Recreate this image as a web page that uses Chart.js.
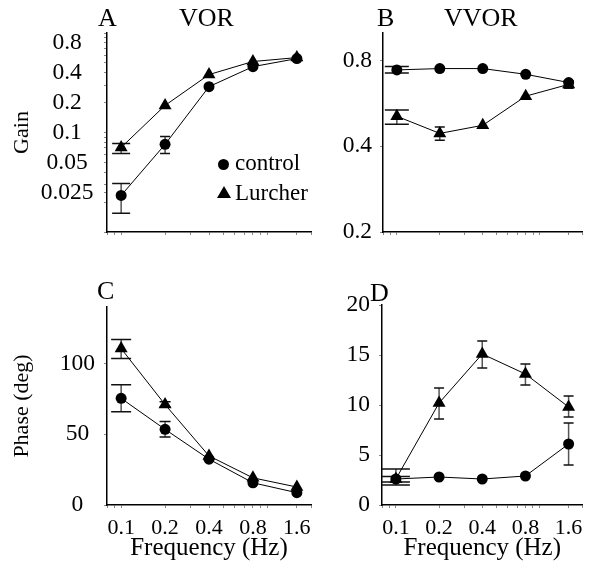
<!DOCTYPE html>
<html>
<head>
<meta charset="utf-8">
<script src="https://cdn.jsdelivr.net/npm/chart.js@4/dist/chart.umd.min.js"></script>
<style>
html,body{margin:0;padding:0;background:#fff;width:590px;height:570px;overflow:hidden}
#wrap{position:relative;width:590px;height:570px}
canvas{position:absolute;left:0;top:0}
.lbl{position:absolute;font-family:"Liberation Serif","Times New Roman",serif;color:#000;line-height:1;white-space:nowrap}
.dot{position:absolute;width:11px;height:11px;border-radius:50%;background:#000}
.tri{position:absolute;width:0;height:0;border-left:7.5px solid transparent;border-right:7.5px solid transparent;border-bottom:12px solid #000}
</style>
</head>
<body>
<div id="wrap">
<canvas id="cA" width="590" height="570"></canvas>
<canvas id="cB" width="590" height="570"></canvas>
<canvas id="cC" width="590" height="570"></canvas>
<canvas id="cD" width="590" height="570"></canvas>
<div class="lbl" style="left:98px;top:5px;font-size:26px">A</div>
<div class="lbl" style="left:179px;top:5px;font-size:26px">VOR</div>
<div class="lbl" style="left:377px;top:5px;font-size:26px">B</div>
<div class="lbl" style="left:444px;top:5px;font-size:26px">VVOR</div>
<div class="lbl" style="left:97px;top:278px;font-size:26px">C</div>
<div class="lbl" style="left:370px;top:280px;font-size:26px">D</div>
<div class="dot" style="left:218px;top:159px"></div>
<div class="lbl" style="left:235px;top:151px;font-size:23px">control</div>
<div class="tri" style="left:217px;top:186px"></div>
<div class="lbl" style="left:235px;top:181px;font-size:23px">Lurcher</div>
</div>
<script>
// ---- data ----
const freqs = [0.1, 0.2, 0.4, 0.8, 1.6];
const freqLabels = ['0.1', '0.2', '0.4', '0.8', '1.6'];
const freqAllTicks = [0.08, 0.09, 0.1, 0.2, 0.3, 0.4, 0.5, 0.6, 0.7, 0.8, 0.9, 1.0, 1.6, 2.0];

// A: VOR gain (log)
const vorCtrl   = [0.0233, 0.076, 0.289, 0.459, 0.553];
const vorCtrlLo = [0.0154, 0.0616, null, null, null];
const vorCtrlHi = [0.0308, 0.091, null, null, null];
const vorLur    = [0.0707, 0.187, 0.382, 0.517, 0.566];
const vorLurLo  = [0.0616, null, null, null, null];
const vorLurHi  = [0.0775, null, null, null, null];
const gainTicksA  = [0.025, 0.05, 0.1, 0.2, 0.4, 0.8];
const gainLabelsA = ['0.025', '0.05', '0.1', '0.2', '0.4', '0.8'];
const gainMinorA  = [0.01, 0.02, 0.03, 0.04, 0.06, 0.07, 0.08, 0.09, 0.3, 0.5, 0.6, 0.7, 0.9, 1.0];

// B: VVOR gain (log)
const vvorCtrl   = [0.742, 0.75, 0.75, 0.716, 0.67];
const vvorCtrlLo = [0.723, null, null, null, null];
const vvorCtrlHi = [0.763, null, null, null, null];
const vvorLur    = [0.51, 0.444, 0.474, 0.60, 0.66];
const vvorLurLo  = [0.478, 0.42, null, null, 0.64];
const vvorLurHi  = [0.536, 0.468, null, null, 0.68];
const gainTicksB  = [0.2, 0.4, 0.8];
const gainLabelsB = ['0.2', '0.4', '0.8'];

// C: VOR phase
const phCtrl   = [75.4, 53.5, 32.4, 15.7, 8.7];
const phCtrlLo = [66, 48, null, null, null];
const phCtrlHi = [85, 59, null, null, null];
const phLur    = [110.6, 71, 34.7, 19.2, 12.7];
const phLurLo  = [103.5, 69.5, null, null, null];
const phLurHi  = [117, 73, null, null, null];
const phaseTicksC = [0, 50, 100];

// D: VVOR phase
const vphCtrl   = [2.6, 2.8, 2.6, 2.9, 6.1];
const vphCtrlLo = [2.3, null, null, null, 4.0];
const vphCtrlHi = [2.85, null, null, null, 8.2];
const vphLur    = [2.6, 10.2, 15.1, 13.1, 9.8];
const vphLurLo  = [2.0, 8.6, 13.7, 12.0, 8.8];
const vphLurHi  = [3.6, 11.7, 16.4, 14.1, 10.9];
const phaseTicksD = [0, 5, 10, 15, 20];

// ---- helpers ----
const SERIF = '"Liberation Serif","Times New Roman",serif';
const pts = ys => freqs.map((f, i) => ({x: f, y: ys[i]}));

const errorBars = {
  id: 'errorBars',
  beforeDatasetsDraw(chart, args, opts) {
    const ctx = chart.ctx, xs = chart.scales.x, ys = chart.scales.y;
    ctx.save();
    chart.data.datasets.forEach(ds => {
      if (!ds.errLo) return;
      ds.data.forEach((p, i) => {
        if (ds.errLo[i] == null) return;
        const x = xs.getPixelForValue(p.x);
        const y1 = ys.getPixelForValue(ds.errLo[i]);
        const y2 = ys.getPixelForValue(ds.errHi[i]);
        const w = (i === 0 ? opts.firstCap : opts.cap) / 2;
        ctx.lineWidth = 1.5;
        ctx.strokeStyle = '#555';
        ctx.beginPath(); ctx.moveTo(x, y1); ctx.lineTo(x, y2); ctx.stroke();
        ctx.strokeStyle = '#111';
        ctx.beginPath();
        ctx.moveTo(x - w, y1); ctx.lineTo(x + w, y1);
        ctx.moveTo(x - w, y2); ctx.lineTo(x + w, y2);
        ctx.stroke();
      });
    });
    ctx.restore();
  }
};

function series(vals, lo, hi, style) {
  return {
    data: pts(vals), errLo: lo, errHi: hi,
    showLine: true, borderColor: '#000', borderWidth: 1,
    pointStyle: style, pointRadius: style === 'triangle' ? 7.5 : 5.5,
    pointBackgroundColor: '#000', pointBorderColor: '#000', pointBorderWidth: 0
  };
}

function xAxis(showLabels, height) {
  return {
    type: 'logarithmic', min: 0.08, max: 2.0, bounds: 'data',
    afterBuildTicks: s => { s.ticks = freqAllTicks.map(v => ({value: v})); },
    afterFit: s => { s.height = height; },
    border: {display: true, color: '#000', width: 1.5},
    grid: {drawOnChartArea: false, drawTicks: true, tickLength: 3, color: '#888'},
    ticks: {
      autoSkip: false, maxRotation: 0, minRotation: 0, padding: 7, color: '#000',
      font: {family: SERIF, size: 22, lineHeight: 1.2},
      callback: v => { const k = freqs.indexOf(v); return (showLabels && k >= 0) ? freqLabels[k] : ''; }
    },
    title: showLabels ? {display: true, text: 'Frequency (Hz)', color: '#000',
      font: {family: SERIF, size: 25, lineHeight: 1}, padding: {top: 0, bottom: 0}} : {display: false}
  };
}

function yAxis(cfg) {
  return Object.assign({
    bounds: 'data',
    afterBuildTicks: s => { s.ticks = cfg.tickVals.map(v => ({value: v})); },
    afterFit: s => { s.width = 100; },
    border: {display: true, color: '#000', width: 1.5},
    grid: {drawOnChartArea: false, drawTicks: true, tickLength: 3, color: '#888'},
    ticks: {
      autoSkip: false, padding: cfg.pad, crossAlign: cfg.align, color: '#000',
      font: {family: SERIF, size: 23.5, lineHeight: 1.2},
      callback: v => { const k = cfg.labVals.indexOf(v); return k >= 0 ? cfg.labels[k] : ''; }
    },
    title: cfg.title ? {display: true, text: cfg.title, color: '#000',
      font: {family: SERIF, size: 22, lineHeight: 1}, padding: {top: 4, bottom: 0}} : {display: false}
  }, cfg.scale);
}

function make(id, datasets, pad, xCfg, yCfg, caps) {
  return new Chart(document.getElementById(id), {
    type: 'scatter',
    data: {datasets},
    options: {
      responsive: false, animation: false, events: [],
      layout: {padding: pad},
      plugins: {legend: {display: false}, tooltip: {enabled: false}, errorBars: caps},
      scales: {x: xCfg, y: yCfg}
    },
    plugins: [errorBars]
  });
}

make('cA',
  [series(vorCtrl, vorCtrlLo, vorCtrlHi, 'circle'), series(vorLur, vorLurLo, vorLurHi, 'triangle')],
  {left: 7, top: 33, right: 279, bottom: 298},
  xAxis(false, 40),
  yAxis({scale: {type: 'logarithmic', min: 0.01, max: 1.0},
    tickVals: gainTicksA.concat(gainMinorA), labVals: gainTicksA, labels: gainLabelsA,
    pad: 10.5, align: 'center', title: 'Gain'}),
  {firstCap: 18, cap: 10});

make('cB',
  [series(vvorCtrl, vvorCtrlLo, vvorCtrlHi, 'circle'), series(vvorLur, vvorLurLo, vvorLurHi, 'triangle')],
  {left: 283, top: 33, right: 3, bottom: 298},
  xAxis(false, 40),
  yAxis({scale: {type: 'logarithmic', min: 0.2, max: 1.0},
    tickVals: gainTicksB, labVals: gainTicksB, labels: gainLabelsB,
    pad: 8, align: 'near', title: null}),
  {firstCap: 24, cap: 10});

make('cC',
  [series(phCtrl, phCtrlLo, phCtrlHi, 'circle'), series(phLur, phLurLo, phLurHi, 'triangle')],
  {left: 7, top: 307, right: 279, bottom: 9},
  xAxis(true, 56),
  yAxis({scale: {type: 'linear', min: 0, max: 140},
    tickVals: phaseTicksC, labVals: phaseTicksC, labels: phaseTicksC.map(String),
    pad: 9, align: 'center', title: 'Phase (deg)'}),
  {firstCap: 20, cap: 11});

make('cD',
  [series(vphCtrl, vphCtrlLo, vphCtrlHi, 'circle'), series(vphLur, vphLurLo, vphLurHi, 'triangle')],
  {left: 282, top: 305, right: 4, bottom: 9},
  xAxis(true, 56),
  yAxis({scale: {type: 'linear', min: 0, max: 20},
    tickVals: phaseTicksD, labVals: phaseTicksD, labels: phaseTicksD.map(String),
    pad: 9, align: 'near', title: null}),
  {firstCap: 28, cap: 10});
</script>
</body>
</html>
